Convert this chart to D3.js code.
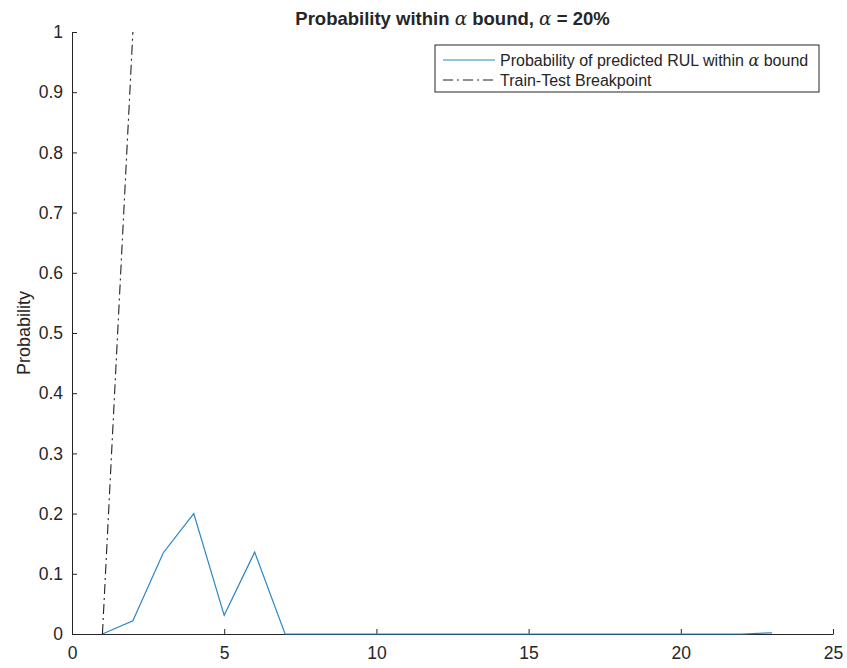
<!DOCTYPE html>
<html>
<head>
<meta charset="utf-8">
<script src="https://cdn.jsdelivr.net/npm/d3@7"></script>
<style>
 body { margin:0; background:#fff; }
 text { font-family: "Liberation Sans", Arial, sans-serif; fill:#262626; }
</style>
</head>
<body>
<svg id="chart" width="847" height="668"></svg>
<script>
// probability of predicted RUL within alpha bound, one value per cycle
var cycles = [1,2,3,4,5,6,7,8,9,10,11,12,13,14,15,16,17,18,19,20,21,22,23];
var prob = [0,0.022,0.135,0.2,0.031,0.136,0,0,0,0,0,0,0,0,0,0,0,0,0,0,0,0,0.002];
// train-test breakpoint line
var breakX = [1,2];
var breakY = [0,1];

var xTicks = [0,5,10,15,20,25];
var yTicks = [0,0.1,0.2,0.3,0.4,0.5,0.6,0.7,0.8,0.9,1];

var mLeft = 72, mRight = 833, mTop = 32, mBottom = 634;

var svg = d3.select("#chart");

var x = d3.scaleLinear().domain([0,25]).range([mLeft,mRight]);
var y = d3.scaleLinear().domain([0,1]).range([mBottom,mTop]);

var xAxis = svg.append("g")
  .attr("transform","translate(0,"+mBottom+")")
  .call(d3.axisBottom(x).tickValues(xTicks).tickSizeInner(-5).tickSizeOuter(0).tickPadding(12).tickFormat(d3.format("d")));
var yAxis = svg.append("g")
  .attr("transform","translate("+mLeft+",0)")
  .call(d3.axisLeft(y).tickValues(yTicks).tickSizeInner(-5).tickSizeOuter(0).tickPadding(9).tickFormat(function(d){ return d===0||d===1 ? d : d.toFixed(1); }));

[xAxis,yAxis].forEach(function(a){
  a.selectAll("path,line").attr("stroke","#262626");
  a.selectAll("text").style("font-size","17.5px").attr("fill","#262626");
});
xAxis.selectAll("text").attr("dy","0.75em");

// series
var line = d3.line().x(function(d,i){ return x(cycles[i]); }).y(function(d){ return y(d); });
svg.append("path").datum(prob)
  .attr("d",line).attr("fill","none").attr("stroke","#2a86c4").attr("stroke-width",1.2);

var bline = d3.line().x(function(d,i){ return x(breakX[i]); }).y(function(d){ return y(d); });
svg.append("path").datum(breakY)
  .attr("d",bline).attr("fill","none").attr("stroke","#222")
  .attr("stroke-width",1.1).attr("stroke-dasharray","10,4,2,4");

// title
var title = svg.append("text").attr("x",(mLeft+mRight)/2).attr("y",25)
  .attr("text-anchor","middle").style("font-size","18.5px").style("font-weight","bold").attr("fill","#000");
title.append("tspan").text("Probability within ");
title.append("tspan").style("font-family","'DejaVu Serif', serif").style("font-style","italic").style("font-weight","normal").text("\u03b1");
title.append("tspan").text(" bound, ");
title.append("tspan").style("font-family","'DejaVu Serif', serif").style("font-style","italic").style("font-weight","normal").text("\u03b1");
title.append("tspan").text(" = 20%");

// y label
svg.append("text").attr("transform","translate(30,"+((mTop+mBottom)/2)+") rotate(-90)")
  .attr("text-anchor","middle").style("font-size","18px").text("Probability");

// legend
var legend = svg.append("g").attr("transform","translate(435,45)");
legend.append("rect").attr("width",384).attr("height",47)
  .attr("fill","#fff").attr("stroke","#262626").attr("stroke-width",1);
var items = [
  {label:"Probability of predicted RUL within ", alpha:true, bound:" bound", color:"#2a86c4", dash:null},
  {label:"Train-Test Breakpoint", alpha:false, color:"#222", dash:"10,4,2,4"}
];
items.forEach(function(it,i){
  var yy = 15 + i*20;
  legend.append("line").attr("x1",8).attr("x2",60).attr("y1",yy).attr("y2",yy)
    .attr("stroke",it.color).attr("stroke-width",1).attr("stroke-dasharray",it.dash);
  var t = legend.append("text").attr("x",65).attr("y",yy+5.5).style("font-size","16px");
  t.append("tspan").text(it.label);
  if(it.alpha){
    t.append("tspan").style("font-family","'DejaVu Serif', serif").style("font-style","italic").text("\u03b1");
    t.append("tspan").text(it.bound);
  }
});
</script>
</body>
</html>
